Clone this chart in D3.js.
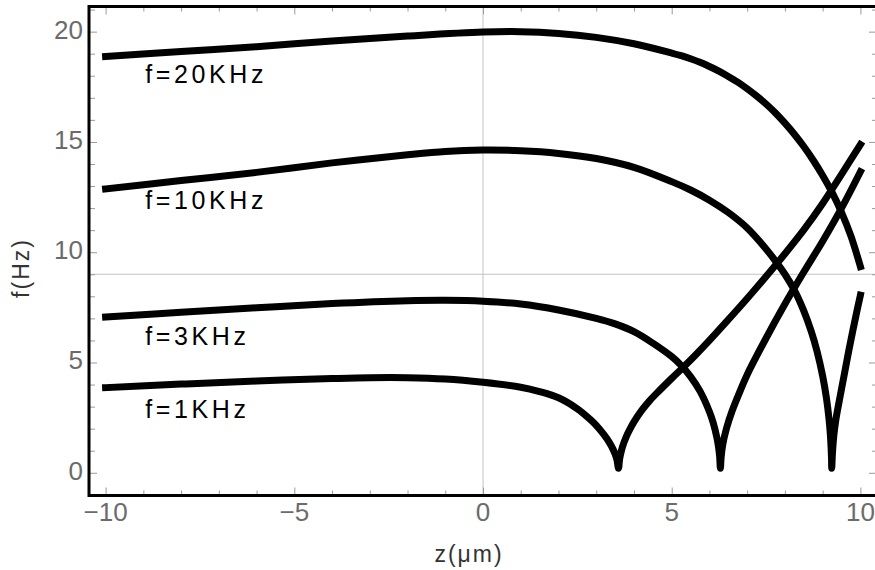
<!DOCTYPE html>
<html>
<head>
<meta charset="utf-8">
<script src="https://cdn.jsdelivr.net/npm/d3@7"></script>
<style>
  body { margin: 0; background: #fff; }
  svg { display: block; }
</style>
</head>
<body>
<div id="container"></div>
<script>
//---------------------------------------------------------
// DATA

const zTicks = [-10, -5, 0, 5, 10]
const fTicks = [0, 5, 10, 15, 20]

const z1k = [-10, -8, -6, -4, -3, -2, -1, 0, 1, 1.5, 2, 2.5, 2.84, 3, 3.2, 3.35, 3.45, 3.5, 3.55, 3.59, 3.62, 3.65, 3.7, 3.8, 3.9, 4, 4.2, 4.4, 4.6, 5, 5.3, 5.6, 6, 6.5, 7, 7.5, 8, 8.5, 9, 9.5, 10]
const f1k = [3.86, 4.02, 4.16, 4.27, 4.31, 4.31, 4.25, 4.1, 3.88, 3.68, 3.4, 2.9, 2.42, 2.15, 1.74, 1.37, 1.05, 0.85, 0.58, 0.2, 0.62, 0.88, 1.2, 1.65, 2.0, 2.31, 2.82, 3.24, 3.6, 4.28, 4.77, 5.28, 6.0, 6.94, 7.9, 8.9, 9.93, 11.01, 12.21, 13.53, 14.88]

const z3k = [-10, -8, -6, -4, -2, -1, 0, 1, 2, 3, 3.5, 4, 4.5, 5, 5.25, 5.5, 5.75, 6, 6.1, 6.2, 6.25, 6.27, 6.29, 6.31, 6.35, 6.45, 6.6, 6.82, 7, 7.5, 8, 8.5, 9, 9.5, 10]
const f3k = [7.06, 7.28, 7.48, 7.67, 7.8, 7.82, 7.78, 7.65, 7.38, 7.0, 6.75, 6.4, 5.88, 5.27, 4.87, 4.36, 3.7, 2.77, 2.27, 1.57, 1.06, 0.75, 0.2, 0.7, 1.25, 2.0, 2.8, 3.74, 4.45, 6.1, 7.65, 9.1, 10.5, 12.0, 13.65]

const z10k = [-10, -8, -6, -4, -2, -1, 0, 1, 2, 3, 4, 5, 5.5, 6, 6.5, 7, 7.5, 7.75, 8, 8.25, 8.5, 8.7, 8.85, 9, 9.1, 9.17, 9.21, 9.235, 9.24, 9.26, 9.3, 9.35, 9.4, 9.5, 9.6, 9.7, 9.8, 9.9, 10]
const f10k = [12.87, 13.25, 13.62, 14.05, 14.42, 14.57, 14.63, 14.6, 14.48, 14.25, 13.85, 13.2, 12.82, 12.36, 11.8, 11.1, 10.15, 9.6, 9.0, 8.28, 7.34, 6.4, 5.52, 4.39, 3.39, 2.41, 1.58, 0.65, 0.2, 0.9, 1.75, 2.4, 2.9, 3.8, 4.7, 5.6, 6.45, 7.27, 8.05]

const z20k = [-10, -8, -6, -4, -2, 0, 1, 2, 3, 4, 5, 5.25, 5.5, 5.75, 6, 6.25, 6.5, 6.75, 7, 7.25, 7.5, 7.75, 8, 8.25, 8.5, 8.75, 9, 9.25, 9.5, 9.75, 10]
const f20k = [18.87, 19.1, 19.32, 19.58, 19.8, 19.98, 20.0, 19.92, 19.74, 19.45, 19.03, 18.91, 18.77, 18.61, 18.42, 18.21, 17.97, 17.71, 17.41, 17.08, 16.72, 16.31, 15.85, 15.35, 14.79, 14.17, 13.48, 12.71, 11.81, 10.73, 9.35]

const curveNames = ['f=20KHz', 'f=10KHz', 'f=3KHz', 'f=1KHz']
const curveZ = [z20k, z10k, z3k, z1k]
const curveF = [f20k, f10k, f3k, f1k]
// label anchors in data units (left edge, baseline)
const labelZ = [-8.95, -8.95, -8.95, -8.95]
const labelF = [17.69, 11.95, 5.79, 2.47]

const gridZ = [0]
const gridF = [9]

//---------------------------------------------------------
// SETUP

const width = 875
const height = 570
const frame = {left: 89, top: 6.5, right: 877, bottom: 495.5}
const font = '"Liberation Sans", Helvetica, Arial, sans-serif'

const svg = d3.select('#container').append('svg')
  .attr('width', width)
  .attr('height', height)
  .style('font-family', font)

const x = d3.scaleLinear().domain([-10.44, 10.44]).range([frame.left, frame.right])
const y = d3.scaleLinear().domain([-1.03, 21.14]).range([frame.bottom, frame.top])

const minorZ = d3.range(-10, 11, 1).filter(d => !zTicks.includes(d))
const minorF = d3.range(-1, 22, 1).filter(d => !fTicks.includes(d))

// grid lines
svg.append('g').selectAll('line').data(gridZ).join('line')
  .attr('x1', d => x(d)).attr('x2', d => x(d))
  .attr('y1', frame.top).attr('y2', frame.bottom)
  .attr('stroke', '#c4c4c4').attr('stroke-width', 1)

svg.append('g').selectAll('line').data(gridF).join('line')
  .attr('x1', frame.left).attr('x2', frame.right)
  .attr('y1', d => y(d)).attr('y2', d => y(d))
  .attr('stroke', '#c4c4c4').attr('stroke-width', 1)

// ticks on all four sides, pointing inward
function ticks(axisFn, scale, values, size, pos) {
  const g = svg.append('g')
    .attr('transform', pos)
    .call(axisFn(scale).tickValues(values).tickSize(-size).tickFormat(''))
  g.select('.domain').remove()
  g.selectAll('.tick line').attr('stroke', '#9a9a9a').attr('stroke-width', 1)
}

ticks(d3.axisBottom, x, zTicks, 8, `translate(0,${frame.bottom})`)
ticks(d3.axisBottom, x, minorZ, 5, `translate(0,${frame.bottom})`)
ticks(d3.axisTop, x, zTicks, 8, `translate(0,${frame.top})`)
ticks(d3.axisTop, x, minorZ, 5, `translate(0,${frame.top})`)
ticks(d3.axisLeft, y, fTicks, 8, `translate(${frame.left},0)`)
ticks(d3.axisLeft, y, minorF, 6, `translate(${frame.left},0)`)
ticks(d3.axisRight, y, fTicks, 8, `translate(${frame.right},0)`)
ticks(d3.axisRight, y, minorF, 5, `translate(${frame.right},0)`)

// frame
svg.append('rect')
  .attr('x', frame.left).attr('y', frame.top)
  .attr('width', frame.right - frame.left)
  .attr('height', frame.bottom - frame.top)
  .attr('fill', 'none')
  .attr('stroke', '#000')
  .attr('stroke-width', 3)

// tick labels
const fmt = d3.format('d')

svg.append('g').selectAll('text').data(zTicks).join('text')
  .attr('x', d => x(d))
  .attr('y', 521)
  .attr('text-anchor', 'middle')
  .attr('fill', '#6b6b6b')
  .style('font-size', '26px')
  .text(d => fmt(d))

svg.append('g').selectAll('text').data(fTicks).join('text')
  .attr('x', 83)
  .attr('y', d => y(d) + 7)
  .attr('text-anchor', 'end')
  .attr('fill', '#6b6b6b')
  .style('font-size', '26px')
  .text(d => fmt(d))

// axis titles
svg.append('text')
  .attr('x', 469)
  .attr('y', 562)
  .attr('text-anchor', 'middle')
  .attr('fill', '#333')
  .style('font-size', '23px')
  .style('letter-spacing', '2px')
  .text('z(μm)')

svg.append('text')
  .attr('transform', 'translate(29,268) rotate(-90)')
  .attr('text-anchor', 'middle')
  .attr('fill', '#333')
  .style('font-size', '23px')
  .style('letter-spacing', '2px')
  .text('f(Hz)')

//---------------------------------------------------------
// DRAWING: CURVES

const line = d3.line()
  .x(d => x(d[0]))
  .y(d => y(d[1]))
  .curve(d3.curveCatmullRom.alpha(0.5))

curveNames.forEach((name, i) => {
  const pts = curveZ[i].map((z, j) => [z, curveF[i][j]])
  svg.append('path')
    .datum(pts)
    .attr('d', line)
    .attr('fill', 'none')
    .attr('stroke', '#000')
    .attr('stroke-width', 7)
    .attr('stroke-linecap', 'square')
    .attr('stroke-linejoin', 'round')

  svg.append('text')
    .attr('x', x(labelZ[i]))
    .attr('y', y(labelF[i]))
    .attr('fill', '#000')
    .style('font-size', '25px')
    .style('letter-spacing', '3.6px')
    .text(name)
})
</script>
</body>
</html>
